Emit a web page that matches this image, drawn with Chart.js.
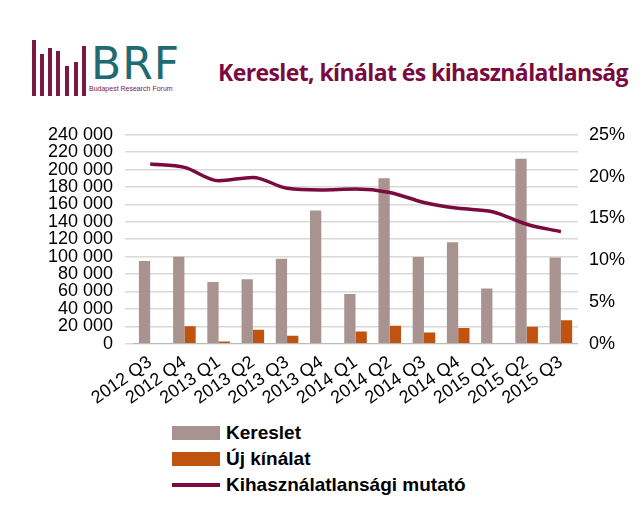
<!DOCTYPE html>
<html><head><meta charset="utf-8">
<script src="https://cdn.jsdelivr.net/npm/chart.js@4"></script>
<style>
body{margin:0;width:642px;height:515px;background:#fff;font-family:"Liberation Sans",Arial,sans-serif;position:relative;overflow:hidden}
#logo{position:absolute;left:32px;top:40px;height:56px;width:150px}
.lb{position:absolute;bottom:0;width:4px;background:#7a1a44}
#brf{position:absolute;left:91px;top:38px;font-size:44px;color:#1f6b73;letter-spacing:1px;font-family:"DejaVu Sans",sans-serif}
#brfs{position:absolute;left:89px;top:85px;font-size:7px;color:#7a1a44}
#title{position:absolute;left:218px;top:56px;font-size:23px;font-weight:bold;color:#7a0a3f;font-family:"Open Sans",sans-serif;letter-spacing:-0.6px}
#wrap{position:absolute;left:0;top:112px;width:642px;height:297px}
#legend{position:absolute;left:172px;top:420px;font-size:19px;font-weight:bold;color:#000}
.li{height:26px;display:flex;align-items:center}
.sw{width:48px;height:14px;margin-right:6px}
</style></head><body>
<div id="logo">
<div class="lb" style="left:0;height:56px"></div><div class="lb" style="left:8px;height:42px"></div>
<div class="lb" style="left:16px;height:48px"></div><div class="lb" style="left:24px;height:45px"></div>
<div class="lb" style="left:33px;height:30px"></div><div class="lb" style="left:42px;height:34px"></div>
<div class="lb" style="left:50px;height:50px"></div>
</div>
<div id="brf">BRF</div><div id="brfs">Budapest Research Forum</div>
<div id="title">Kereslet, kínálat és kihasználatlanság</div>
<div id="wrap"><canvas id="c"></canvas></div>
<div id="legend">
<div class="li"><span class="sw" style="background:#a89391"></span>Kereslet</div>
<div class="li"><span class="sw" style="background:#c0530e"></span>Új kínálat</div>
<div class="li"><span class="sw" style="height:4px;background:#7a0a3f"></span>Kihasználatlansági mutató</div>
</div>
<script>
const categories = ['2012 Q3','2012 Q4','2013 Q1','2013 Q2','2013 Q3','2013 Q4','2014 Q1','2014 Q2','2014 Q3','2014 Q4','2015 Q1','2015 Q2','2015 Q3'];
const kereslet   = [95000,100000,71000,74000,97500,153000,57000,190000,99500,116500,63500,212500,99000];
const ujKinalat  = [0,20000,2600,16000,9000,0,14000,20500,13000,18000,0,19500,27000];
const kihasznalatlansag = [21.5,21.1,19.5,19.9,18.6,18.4,18.5,18.1,16.9,16.2,15.8,14.3,13.4];

const tickFont = { family: 'Liberation Sans Narrow, Liberation Sans', size: 18 };

new Chart(document.getElementById('c'), {
    data: {
        labels: categories,
        datasets: [
            { type: 'line', data: kihasznalatlansag, yAxisID: 'y1', borderColor: '#7a0a3f', borderWidth: 3.5, pointRadius: 0, tension: 0.4, cubicInterpolationMode: 'monotone' },
            { type: 'bar', data: kereslet, yAxisID: 'y', backgroundColor: '#a89391', categoryPercentage: 0.66, barPercentage: 1 },
            { type: 'bar', data: ujKinalat, yAxisID: 'y', backgroundColor: '#c0530e', categoryPercentage: 0.66, barPercentage: 1 }
        ]
    },
    options: {
        responsive: true, maintainAspectRatio: false, animation: false,
        layout: { padding: { left: 36, right: 14, top: 4 } },
        plugins: { legend: { display: false }, tooltip: { enabled: false } },
        scales: {
            x: {
                grid: { display: false },
                border: { color: '#bbb' },
                ticks: { color: '#000', font: tickFont, autoSkip: false, maxRotation: 35, minRotation: 35, padding: 0 }
            },
            y: {
                min: 0, max: 240000,
                ticks: { stepSize: 20000, autoSkip: false, color: '#000', font: tickFont, padding: 12,
                    callback: v => v.toLocaleString('en-US').replace(/,/g, ' ') },
                grid: { color: '#d9d9d9', lineWidth: 1.5 },
                border: { display: false }
            },
            y1: {
                position: 'right', min: 0, max: 25,
                ticks: { stepSize: 5, color: '#000', font: tickFont, callback: v => v + '%' },
                grid: { display: false },
                border: { display: false }
            }
        }
    }
});
</script>
</body></html>
